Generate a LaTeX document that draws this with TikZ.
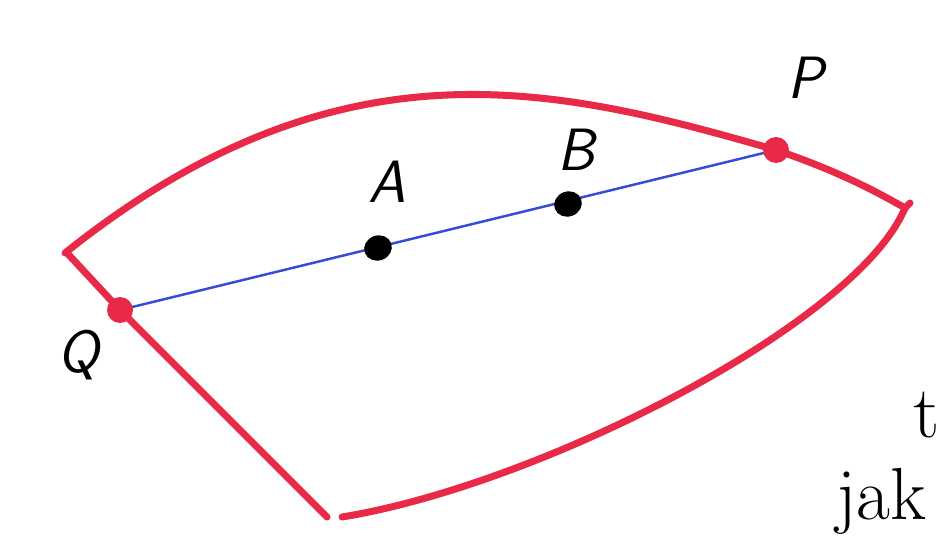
\documentclass[tikz,border=0pt]{standalone}
\definecolor{rimred}{RGB}{232,42,72}
\definecolor{chordblue}{RGB}{55,75,215}
\tikzset{
  rim/.style={draw=rimred, line width=4pt, line cap=round, line join=round},
  chord/.style={draw=chordblue, line width=1.4pt},
  reddot/.style={circle, fill=rimred, inner sep=0pt, minimum size=0.52cm},
  blackdot/.style={ellipse, fill=black, inner sep=0pt, minimum width=0.56cm, minimum height=0.5cm, rotate=20},
  hand/.style={font=\fontsize{34}{38}\selectfont\sffamily\slshape},
  cut/.style={font=\fontsize{42}{46}\selectfont, anchor=base west}
}
\usetikzlibrary{shapes.geometric}
\begin{document}
\begin{tikzpicture}[x=0.02cm, y=-0.02cm]
\useasboundingbox (0,0) rectangle (940,543);
\clip (0,0) rectangle (940,543);
% points on the rim and inside
\coordinate (q) at (120,310);
\coordinate (p) at (776,150);
\coordinate (tl) at (65,253);
\coordinate (tr) at (905,208);
\coordinate (bl) at (327,517);
\coordinate (br) at (342,517);
\draw[chord] (q) -- (p);
% the region
\draw[rim] (tl) .. controls (339,34) and (554,86) .. (p)
  .. controls (820,165) and (860,182) .. (tr) -- (910,203);
\draw[rim] (tr) .. controls (857,323) and (540,485) .. (br);
\draw[rim] (68,254) -- (q) -- (bl);
\node[reddot] (Q) at (q) {};
\node[reddot] (P) at (p) {};
\node[blackdot] (A) at (378,248) {};
\node[blackdot] (B) at (568,204) {};
% labels
\node[hand] (la) at (387,182) {A};
\node[hand] (lb) at (576,150) {B};
\node[hand] (lp) at (805,78) {P};
\node[hand] (lq) at (78,355) {Q};
\node[cut] (t) at (907,438) {t.};
\node[cut] (jak) at (830,520) {jak};
\end{tikzpicture}
\end{document}
